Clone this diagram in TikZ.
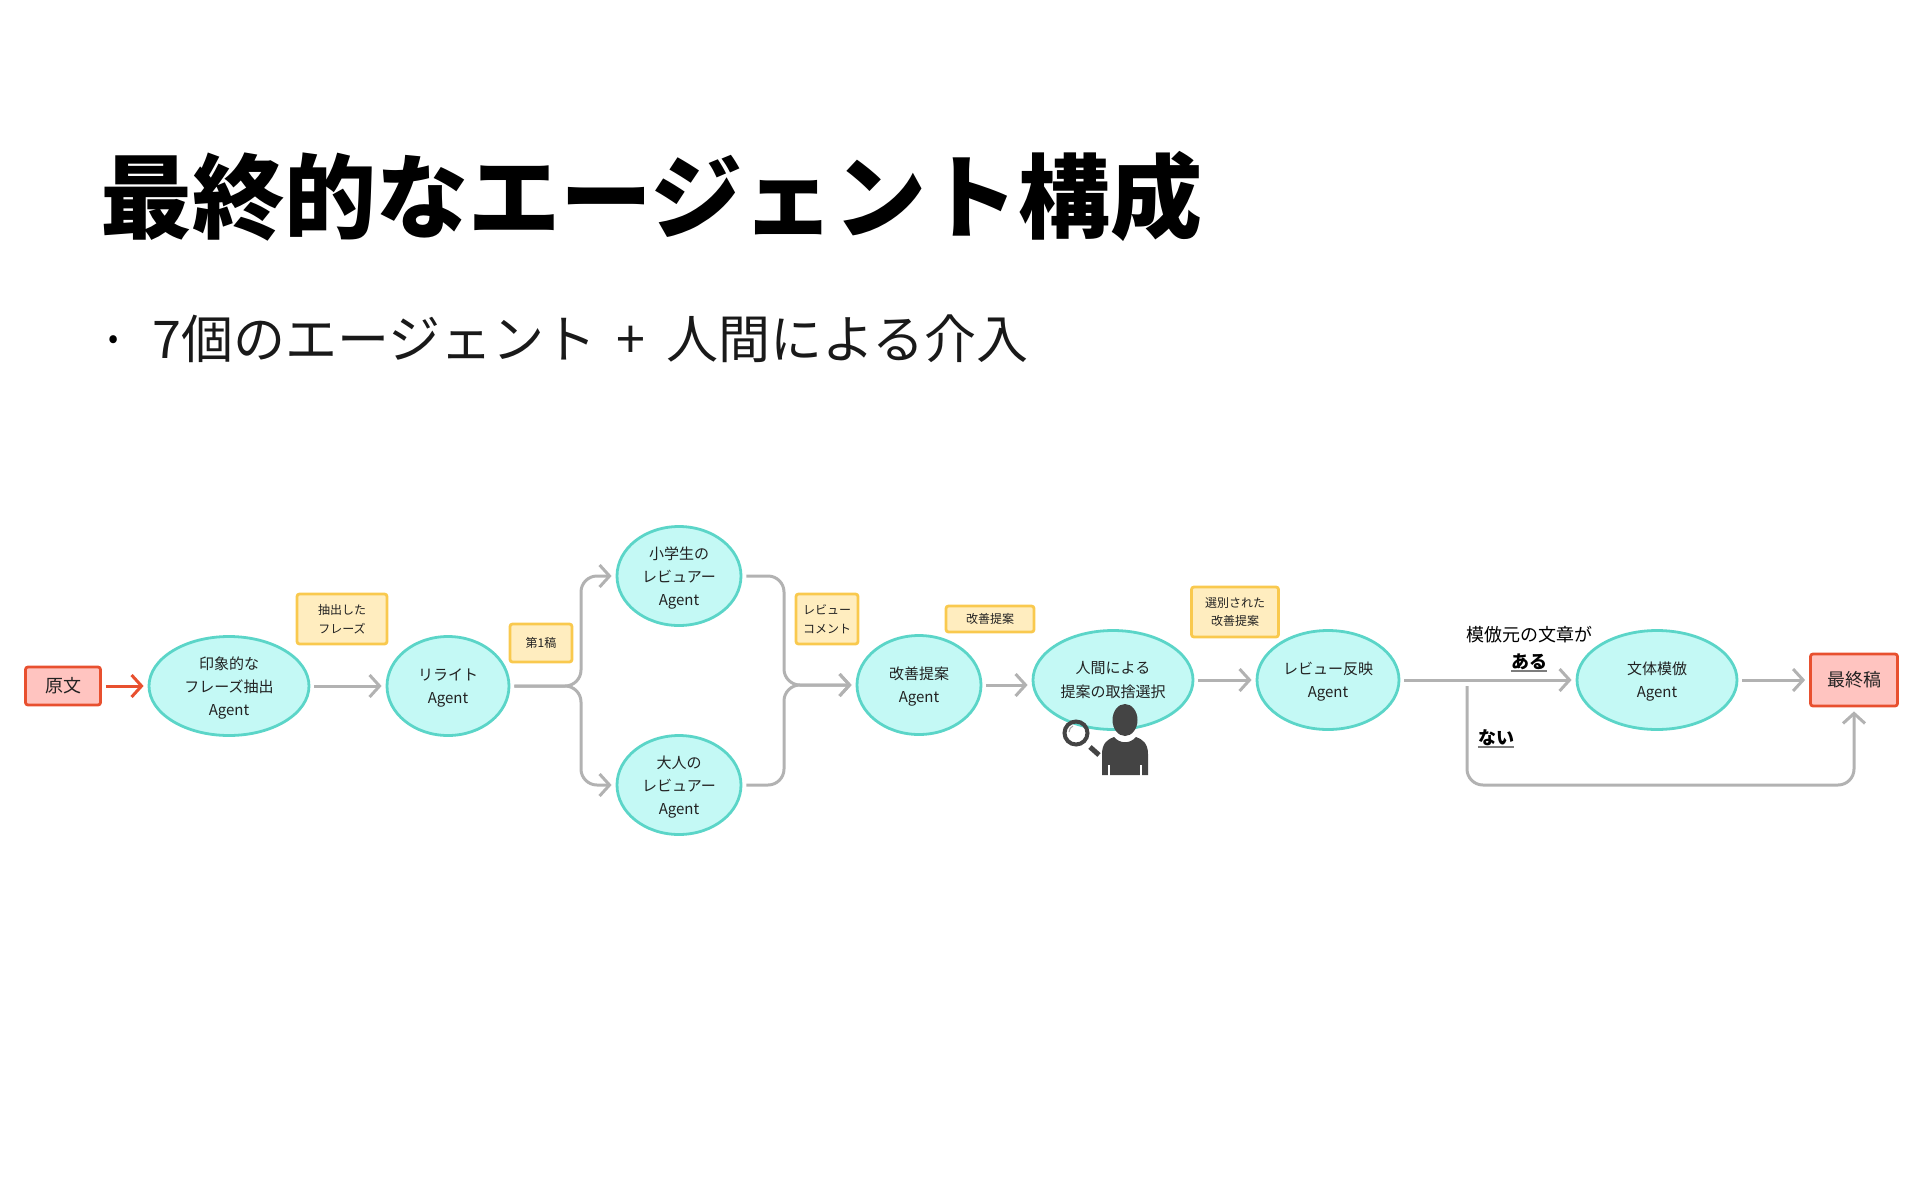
\documentclass[tikz,border=0pt]{standalone}
\usepackage{fontspec}
\setmainfont{Noto Sans CJK JP}
\usetikzlibrary{arrows.meta,shapes.geometric}
\definecolor{agentfill}{HTML}{C4F9F5}
\definecolor{agentline}{HTML}{5BD5C8}
\definecolor{notefill}{HTML}{FFEDBF}
\definecolor{noteline}{HTML}{F9C94E}
\definecolor{endfill}{HTML}{FFC4C0}
\definecolor{endline}{HTML}{E8502F}
\definecolor{flowgray}{HTML}{B2B2B2}
\definecolor{icongray}{HTML}{444444}
\definecolor{inkgray}{HTML}{222222}
\newcommand{\agentword}{\smash{Agent}}
\tikzset{
  agent/.style={ellipse,draw=agentline,fill=agentfill,line width=2.8pt,inner sep=0pt,
    minimum height=99pt,align=center,text=inkgray,font=\fontsize{15}{23.3}\selectfont},
  memo/.style={rounded corners=2.5pt,draw=noteline,fill=notefill,line width=2.8pt,inner sep=0pt,
    align=center,text=inkgray,font=\fontsize{12}{18.5}\selectfont},
  endbox/.style={rounded corners=2.5pt,draw=endline,fill=endfill,line width=2.8pt,inner sep=0pt,
    text=inkgray,font=\fontsize{18}{22}\selectfont},
  flow/.style={-{Straight Barb[length=10pt,width=22pt,line width=3pt]},draw=flowgray,line width=3pt,
    shorten <=4pt,shorten >=4pt},
  branch/.style={flow,rounded corners=16pt},
  cond/.style={text=black,inner sep=0pt,font=\fontsize{18}{22}\selectfont},
  condmark/.style={flowgray!70!black,line width=1.8pt}
}

\begin{document}
\begin{tikzpicture}[x=1pt,y=-1pt]
  \useasboundingbox (0,0) rectangle (1920,1200);
  \node[anchor=west,inner sep=0pt,font=\fontsize{92}{100}\selectfont\bfseries] (title) at (100,196) {最終的なエージェント構成};
  \node[inner sep=0pt,font=\fontsize{30}{30}\selectfont] (dot) at (114,342) {•};
  \node[anchor=west,inner sep=0pt,font=\fontsize{52}{56}\selectfont,text=black!90] (sub) at (152,339) {7個のエージェント\hspace{9pt} + \hspace{9pt}人間による介入};

  % agents
  \node[endbox,minimum width=75pt,minimum height=38pt] (source) at (63,686) {原文};
  \node[agent,minimum width=160pt] (phrase) at (229,686) {印象的な\\フレーズ抽出\\\agentword};
  \node[agent,minimum width=122pt] (rewrite) at (448,686) {リライト\\\agentword};
  \node[agent,minimum width=124pt] (kid) at (679,576) {小学生の\\レビュアー\\\agentword};
  \node[agent,minimum width=124pt] (adult) at (679,785) {大人の\\レビュアー\\\agentword};
  \node[agent,minimum width=124pt] (improve) at (919,685) {改善提案\\\agentword};
  \node[agent,minimum width=160pt] (human) at (1113,680) {人間による\\提案の取捨選択};
  \node[agent,minimum width=142pt] (reflect) at (1328,680) {レビュー反映\\\agentword};
  \node[agent,minimum width=160pt] (mimic) at (1657,680) {文体模倣\\\agentword};
  \node[endbox,minimum width=87pt,minimum height=52pt] (final) at (1854,680) {最終稿};

  % what is handed over
  \node[memo,minimum width=90pt,minimum height=50pt] (memoA) at (342,619) {抽出した\\フレーズ};
  \node[memo,minimum width=62pt,minimum height=38pt] (memoB) at (541,643) {第1稿};
  \node[memo,minimum width=62pt,minimum height=50pt] (memoC) at (827,619) {レビュー\\コメント};
  \node[memo,minimum width=88pt,minimum height=26pt] (memoD) at (990,619) {改善提案};
  \node[memo,minimum width=87pt,minimum height=50pt] (memoE) at (1235,612) {選別された\\改善提案};

  % branch points
  \coordinate (split) at (581,686);
  \coordinate (merge) at (784,685);
  \coordinate (noStart) at (1467,682);
  \coordinate (noDown) at (1467,785);
  \coordinate (noOver) at (1854,785);

  \draw[flow,draw=endline] (source) -- (phrase);
  \draw[flow] (phrase) -- (rewrite);
  \draw[branch] (rewrite.east) -- (split) |- (kid.west);
  \draw[branch] (rewrite.east) -- (split) |- (adult.west);
  \draw[branch] (kid.east) -| (merge) -- (improve.west);
  \draw[branch] (adult.east) -| (merge) -- (improve.west);
  \draw[flow] (improve.east) -- (improve.east -| human.west);
  \draw[flow] (human) -- (reflect);
  \draw[flow] (reflect) -- (mimic);
  \draw[flow] (mimic) -- (final);
  \draw[branch] (noStart) -- (noDown) -- (noOver) -- (final.south);

  \node[cond] (from) at (1529,635) {模倣元の文章が};
  \node[cond,font=\fontsize{18}{22}\selectfont\bfseries] (yes) at (1529,662) {ある};
  \node[cond,font=\fontsize{18}{22}\selectfont\bfseries] (no) at (1496,738) {ない};
  \draw[condmark] ([yshift=-1pt]yes.south west) -- ([yshift=-1pt]yes.south east);
  \draw[condmark] ([yshift=-1pt]no.south west) -- ([yshift=-1pt]no.south east);

  % person with a magnifier
  \fill[icongray] (1125,720) ellipse [x radius=12.5,y radius=16];
  \fill[icongray] (1102,775) -- (1102,754) .. controls (1102,743) and (1108,739) .. (1114,737)
    .. controls (1120,744) and (1130,744) .. (1136,737)
    .. controls (1142,739) and (1148,743) .. (1148,754) -- (1148,775) -- cycle;
  \draw[white,line width=2pt] (1109,765) -- (1109,776) (1141,765) -- (1141,776);
  \draw[icongray,line width=4pt] (1076,733) circle [radius=11.5];
  \draw[icongray,line width=5pt] (1090,747) -- (1099,755);
  \draw[gray!70,line width=1pt] (1069,732) .. controls (1069,729) and (1071,727) .. (1073,726);
\end{tikzpicture}
\end{document}
